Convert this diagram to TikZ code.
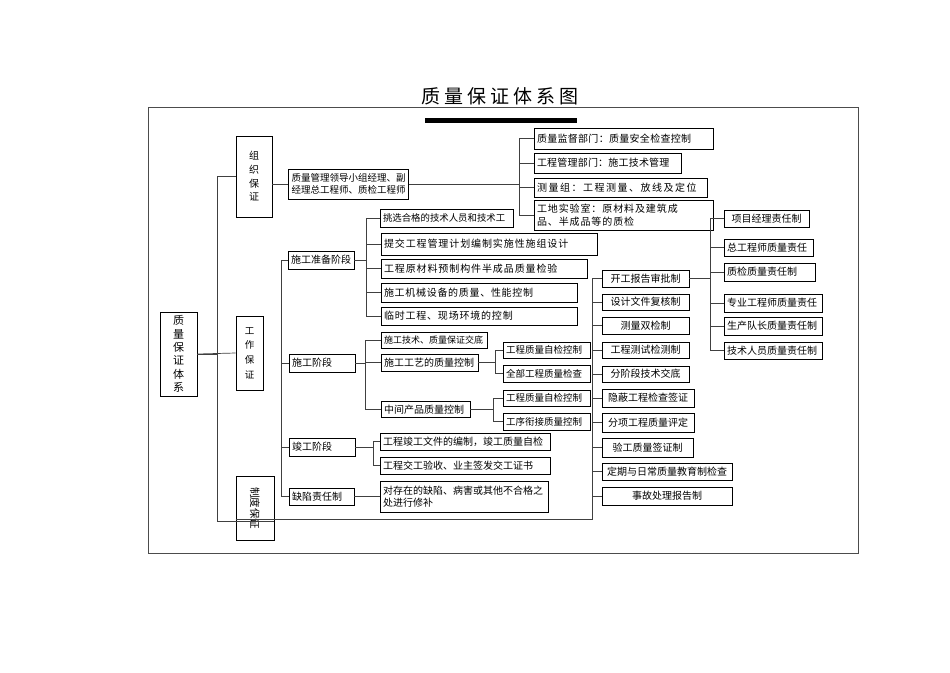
\documentclass[tikz,border=0pt]{standalone}
\usepackage{fontspec}
\setmainfont{Noto Sans CJK SC}
\usetikzlibrary{positioning,calc}

\tikzset{
  blk/.style={draw, line width=0.8pt, inner xsep=3pt, inner ysep=1pt, align=left, font=\fontsize{10}{12.5}\selectfont},
  ls/.style={font=\fontsize{10}{12.5}\selectfont\addfontfeature{LetterSpace=#1}},
  sm/.style={font=\fontsize{#1}{12}\selectfont},
  lnk/.style={draw=black!75, line width=0.7pt},
}

\begin{document}
\begin{tikzpicture}[x=1pt,y=-1pt]
    \useasboundingbox (0,0) rectangle (950,672);
    % title and frame
    \node (title) at (500,96) {\fontsize{19}{22}\selectfont 质\hspace{4pt}量\hspace{4pt}保\hspace{4pt}证\hspace{4pt}体\hspace{4pt}系\hspace{4pt}图};
    \fill (425,118) rectangle (577,123);
    \draw[black!70, line width=0.8pt] (148,107) rectangle (858,553);

    % left column
    \node[blk, minimum width=37pt, minimum height=84pt, align=center, font=\fontsize{11}{13.3}\selectfont] (main) at (178.5,354) {质\\量\\保\\证\\体\\系};
    \node[blk, minimum width=36pt, minimum height=81pt, align=center, font=\fontsize{10}{13.7}\selectfont] (zz) at (254,176.5) {组\\织\\保\\证};
    \node[blk, minimum width=27pt, minimum height=74pt, align=center, font=\fontsize{9.5}{14.7}\selectfont] (gz) at (249.5,353) {工\\作\\保\\证};
    \node[blk, minimum width=64pt, minimum height=38pt, rotate=-90, align=center, font=\fontsize{10.5}{12}\selectfont] (zd) at (255,508) {制度保证};

    % organisation
    \node[blk, sm=9.5, text width=114pt, minimum height=30pt] (ld) at (348.5,184) {质量管理领导小组经理、副\\经理总工程师、质检工程师};
    \node[blk, ls=3, text width=173pt, minimum height=21pt] (r1) at (623.5,138.5) {质量监督部门：质量安全检查控制};
    \node[blk, ls=2, text width=141pt, minimum height=20pt] (r2) at (607.5,163) {工程管理部门：施工技术管理};
    \node[blk, ls=15, text width=167pt, minimum height=19pt] (r3) at (620.5,187.5) {测量组：工程测量、放线及定位};
    \node[blk, ls=9, text width=173pt, minimum height=30pt] (r4) at (623.5,215) {工地实验室：原材料及建筑成\\品、半成品等的质检};

    % work stages
    \node[blk, text width=60pt, minimum height=18pt] (zb) at (321,260) {施工准备阶段};
    \node[blk, sm=9.4, text width=127pt, minimum height=18pt] (p1) at (446.5,218) {挑选合格的技术人员和技术工};
    \node[blk, ls=9, text width=210pt, minimum height=22pt] (p2) at (489,244) {提交工程管理计划编制实施性施组设计};
    \node[blk, ls=9, text width=200pt, minimum height=19pt] (p3) at (484,268.5) {工程原材料预制构件半成品质量检验};
    \node[blk, ls=7, text width=190pt, minimum height=19pt] (p4) at (479,292.5) {施工机械设备的质量、性能控制};
    \node[blk, ls=8, text width=190pt, minimum height=18pt] (p5) at (479,316) {临时工程、现场环境的控制};

    \node[blk, text width=60pt, minimum height=18pt] (sg) at (322,363) {施工阶段};
    \node[blk, sm=9, text width=100pt, minimum height=16pt] (s1) at (434,340) {施工技术、质量保证交底};
    \node[blk, text width=91pt, minimum height=17pt] (s2) at (429.5,362.5) {施工工艺的质量控制};
    \node[blk, text width=83pt, minimum height=16pt] (s3) at (425.5,409.5) {中间产品质量控制};
    \node[blk, sm=9.5, text width=81pt, minimum height=16pt] (s21) at (546.5,350) {工程质量自检控制};
    \node[blk, sm=9.5, text width=81pt, minimum height=17pt] (s22) at (546.5,373.5) {全部工程质量检查};
    \node[blk, sm=9.5, text width=81pt, minimum height=16pt] (s31) at (546.5,398) {工程质量自检控制};
    \node[blk, sm=9.5, text width=81pt, minimum height=17pt] (s32) at (546.5,421.5) {工序衔接质量控制};

    \node[blk, text width=60pt, minimum height=18pt] (jg) at (322,447) {竣工阶段};
    \node[blk, text width=164pt, minimum height=17pt] (j1) at (465,441.5) {工程竣工文件的编制，竣工质量自检};
    \node[blk, text width=164pt, minimum height=17pt] (j2) at (465,465.5) {工程交工验收、业主签发交工证书};

    \node[blk, text width=59pt, minimum height=17pt] (qx) at (321.5,496.5) {缺陷责任制};
    \node[blk, text width=162pt, minimum height=31pt] (q1) at (464,496.5) {对存在的缺陷、病害或其他不合格之\\处进行修补};

    % rules
    \node[blk, align=center, text width=81pt, minimum height=17pt] (z1) at (645.5,278.5) {开工报告审批制};
    \node[blk, align=center, text width=81pt, minimum height=16pt] (z2) at (645.5,302) {设计文件复核制};
    \node[blk, align=center, text width=81pt, minimum height=17pt] (z3) at (645.5,325.5) {测量双检制};
    \node[blk, align=center, text width=81pt, minimum height=16pt] (z4) at (645.5,350) {工程测试检测制};
    \node[blk, align=center, text width=81pt, minimum height=16pt] (z5) at (645.5,374) {分阶段技术交底};
    \node[blk, align=center, text width=86pt, minimum height=18pt] (z6) at (648,398) {隐蔽工程检查签证};
    \node[blk, align=center, text width=86pt, minimum height=19pt] (z7) at (648,422.5) {分项工程质量评定};
    \node[blk, align=center, text width=85pt, minimum height=19pt] (z8) at (647.5,447.5) {验工质量签证制};
    \node[blk, align=center, text width=124pt, minimum height=17pt] (z9) at (667,471.5) {定期与日常质量教育制检查};
    \node[blk, align=center, text width=124pt, minimum height=18pt] (z10) at (667,496) {事故处理报告制};

    \node[blk, align=center, text width=79pt, minimum height=17pt] (e1) at (766.5,218.5) {项目经理责任制};
    \node[blk, text width=83pt, minimum height=17pt] (e2) at (768.5,247.5) {总工程师质量责任};
    \node[blk, text width=85pt, minimum height=18pt] (e3) at (769.5,272) {质检质量责任制};
    \node[blk, text width=92pt, minimum height=18pt] (e4) at (773,303) {专业工程师质量责任};
    \node[blk, text width=92pt, minimum height=18pt] (e5) at (773,326) {生产队长质量责任制};
    \node[blk, text width=92pt, minimum height=17pt] (e6) at (773,350.5) {技术人员质量责任制};

    % connectors
    \draw[lnk] (main.east) -- ++(20,0) |- (zz.west);
    \draw[lnk] (main.east) -- (gz.west);
    \draw[lnk] (main.east) -- ++(20,0) |- ([yshift=-13pt]zd.north);
    \draw[lnk] (zz.east |- ld.west) -- (ld.west);
    \foreach \c in {r1,r2,r3,r4}
        \draw[lnk] (ld.east) -- ++(110,0) |- (\c.west);
    \foreach \c in {sg,jg,qx}
        \draw[lnk] (zb.west) -- ++(-6,0) |- (\c.west);
    \foreach \c in {p1,p2,p3,p4,p5}
        \draw[lnk] (zb.east) -- ++(12,0) |- (\c.west);
    \foreach \c in {s1,s2,s3}
        \draw[lnk] (sg.east) -- ++(10,0) |- (\c.west);
    \foreach \c in {s21,s22}
        \draw[lnk] (s2.east) -- ++(17,0) |- (\c.west);
    \foreach \c in {s31,s32}
        \draw[lnk] (s3.east) -- ++(23,0) |- (\c.west);
    \foreach \c in {j1,j2}
        \draw[lnk] (jg.east) -- ++(18,0) |- (\c.west);
    \draw[lnk] (qx.east) -- (q1.west);
    \draw[lnk] ([yshift=-11pt]zd.south) -| ($(z1.west)+(-9,0)$) -- (z1.west);
    \foreach \c in {z2,z3,z4,z5,z6,z7,z8,z9,z10}
        \draw[lnk] (\c.west) -- ++(-9,0);
    \foreach \c in {e1,e2,e3,e4,e5,e6}
        \draw[lnk] (z1.east) -- ++(21,0) |- (\c.west);
\end{tikzpicture}
\end{document}
